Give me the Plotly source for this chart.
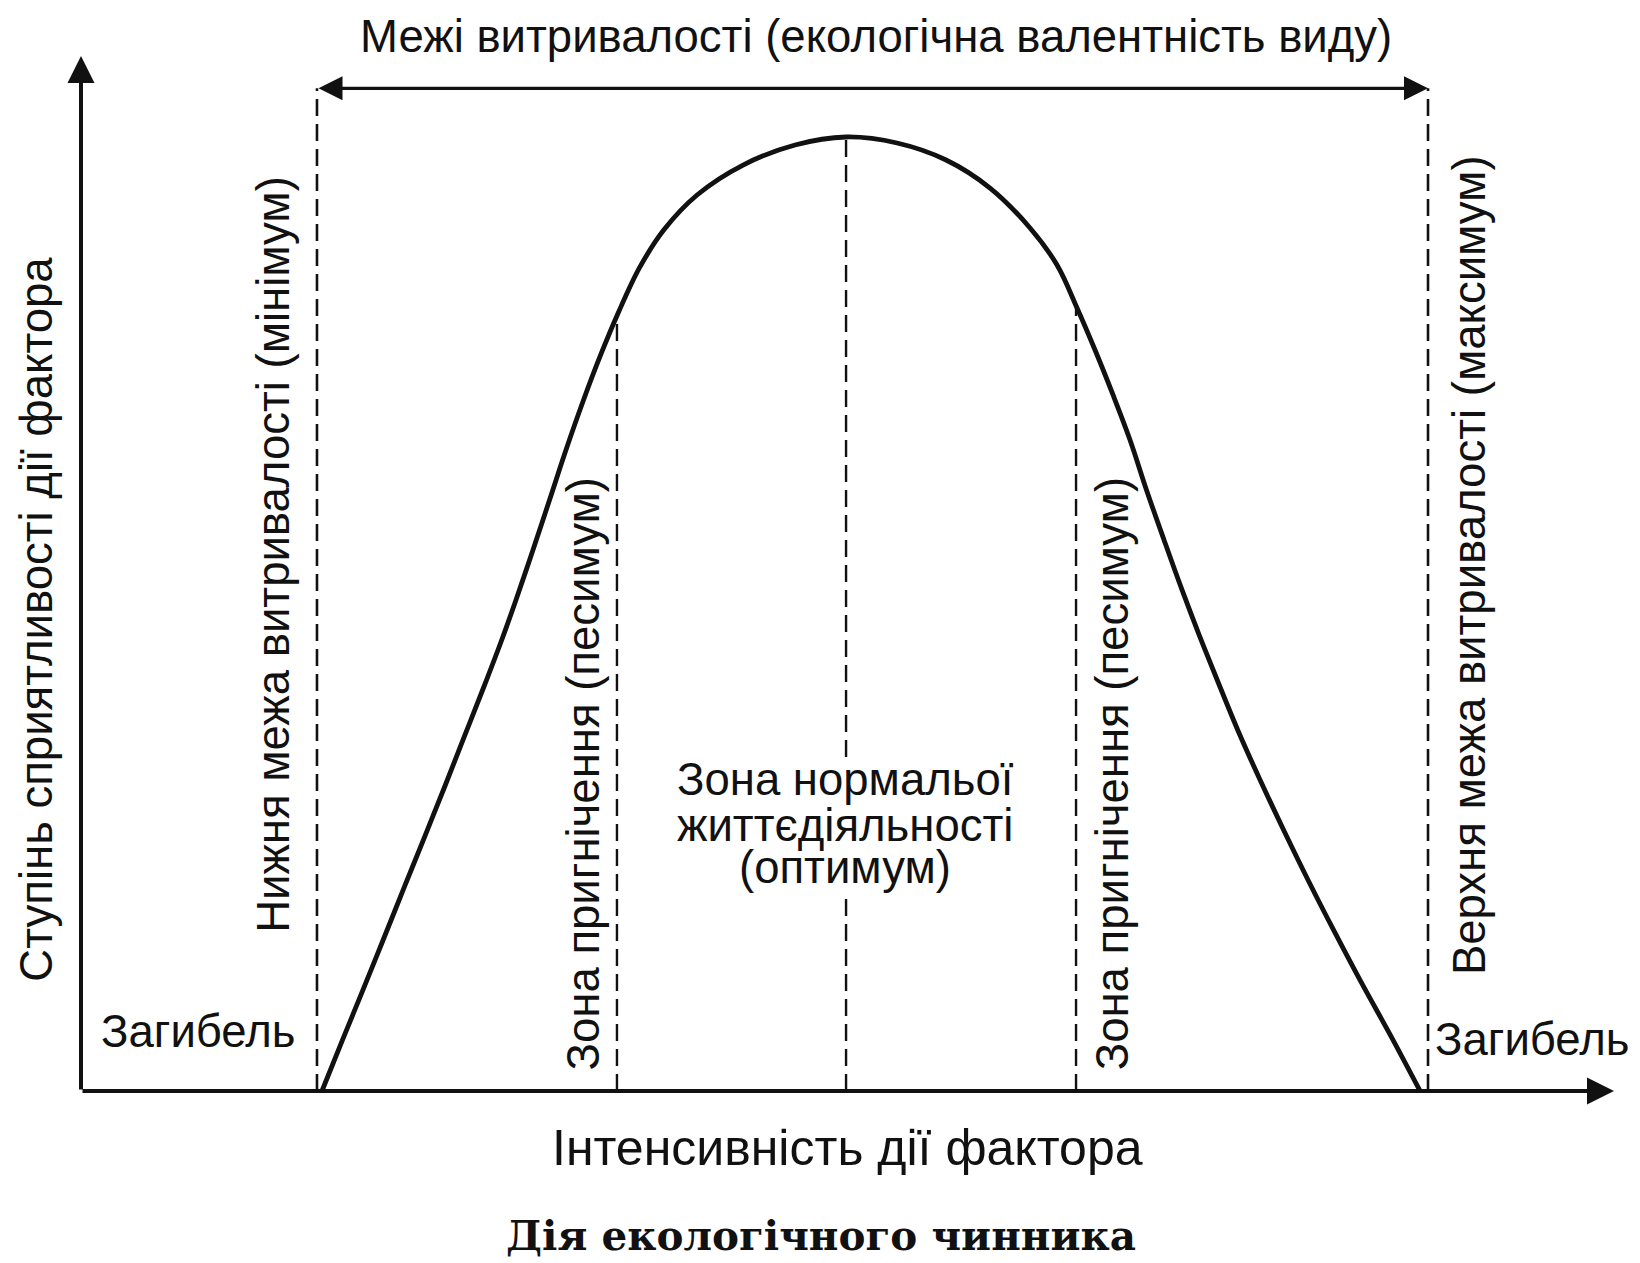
import plotly.graph_objects as go

# ---- data (arbitrary units: intensity of the factor on x, favourability on y) ----
curve_x = [21.69, 23.54, 25.38, 27.23, 29.07, 30.92, 32.76, 34.56, 36.36, 37.80, 39.15, 40.68,
           42.17, 43.65, 45.23, 46.77, 48.35, 50.26, 52.45, 55.45, 59.59, 64.27, 68.86,
           73.45, 77.86, 81.82, 85.42, 87.85, 89.65, 91.27, 92.89, 94.42, 95.90, 97.48, 99.10,
           100.68, 102.34, 104.19, 106.21, 108.33, 110.53, 112.83, 115.21, 117.89, 120.52]
curve_y = [0, 5.35, 10.59, 15.93, 21.28, 26.62, 31.97, 37.32, 42.66, 47.06, 51.47, 56.71,
           61.95, 67.19, 72.43, 77.15, 81.55, 86.27, 90.25, 93.92, 97.06, 99.16, 100,
           99.37, 97.59, 94.65, 90.46, 86.58, 82.08, 77.67, 72.96, 68.24, 63.00, 57.76, 52.52,
           47.69, 42.87, 37.63, 32.39, 27.15, 21.91, 16.67, 11.43, 5.77, 0]

limit_x = [21.24, 121.24]          # lower / upper tolerance limits
limit_top = 105.1                  # level of the double arrow
zone_x = [48.24, 68.86, 89.56]     # pessimum | optimum | pessimum boundaries
zone_top = [81.3, 100, 82.2]
opt_gap = [20.6, 35.0]             # the optimum caption interrupts the central line

x_axis_end = 137.98
y_axis_end = 108.5

title_top = "Межі витривалості (екологічна валентність виду)"
y_label = "Ступінь сприятливості дії фактора"
x_label = "Інтенсивність дії фактора"
caption = "Дія екологічного чинника"
lower_label = "Нижня межа витривалості (мінімум)"
upper_label = "Верхня межа витривалості (максимум)"
pess_label = "Зона пригнічення (песимум)"
opt_lines = ["Зона нормальої", "життєдіяльності", "(оптимум)"]
death_label = "Загибель"

FONT = "Liberation Sans"
INK = "#111111"
FS = 45.5
DASH = "17px,8px"

fig = go.Figure()


def vline(xv, y0, y1, width=2.4):
    fig.add_trace(go.Scatter(x=[xv, xv], y=[y0, y1], mode="lines",
                             line=dict(color=INK, width=width, dash=DASH),
                             hoverinfo="skip", showlegend=False))


for xv in limit_x:
    vline(xv, 0, limit_top, 2.6)
vline(zone_x[0], 0, zone_top[0])
vline(zone_x[2], 0, zone_top[2])
vline(zone_x[1], 0, opt_gap[0])
vline(zone_x[1], opt_gap[1], zone_top[1])

fig.add_trace(go.Scatter(x=curve_x, y=curve_y, mode="lines",
                         line=dict(color=INK, width=4.8, shape="spline", smoothing=1.0),
                         hoverinfo="skip", showlegend=False))

ann = []
ann.append(dict(x=0, y=y_axis_end, ax=0, ay=0, xref="x", yref="y", axref="x", ayref="y",
                text="", showarrow=True, arrowhead=2, arrowwidth=4, arrowsize=1.35,
                arrowcolor=INK))
ann.append(dict(x=x_axis_end, y=0, ax=0, ay=0, xref="x", yref="y", axref="x", ayref="y",
                text="", showarrow=True, arrowhead=2, arrowwidth=4, arrowsize=1.35,
                arrowcolor=INK))
ann.append(dict(x=limit_x[1], y=limit_top, ax=limit_x[0], ay=limit_top, xref="x", yref="y",
                axref="x", ayref="y", text="", showarrow=True, arrowhead=2, startarrowhead=2,
                arrowside="end+start", arrowwidth=3.2, arrowsize=1.5, startarrowsize=1.5,
                arrowcolor=INK))


def txt(x, y, s, angle=0, size=FS, xanchor="center", family=FONT, bold=False):
    ann.append(dict(x=x, y=y, xref="x", yref="y", text=(f"<b>{s}</b>" if bold else s),
                    showarrow=False, textangle=angle, xanchor=xanchor, yanchor="middle",
                    font=dict(family=family, size=size, color=INK)))


txt(71.56, 110.5, title_top)
txt(-3.96, 49.4, y_label, angle=-90)
txt(17.37, 56.3, lower_label, angle=-90)
txt(125.0, 55.1, upper_label, angle=-90)
txt(45.2, 33.2, pess_label, angle=-90)
txt(92.8, 33.2, pess_label, angle=-90)
txt(68.8, 32.7, opt_lines[0])
txt(68.8, 27.8, opt_lines[1])
txt(68.8, 23.4, opt_lines[2])
txt(10.49, 6.2, death_label)
txt(121.7, 5.4, death_label, xanchor="left")
txt(68.95, -6.0, x_label, size=50)
txt(66.6, -15.2, caption, family="DejaVu Serif", bold=True, size=40.5)

fig.update_layout(
    width=1640, height=1263,
    margin=dict(l=0, r=0, t=0, b=0),
    paper_bgcolor="white", plot_bgcolor="white",
    xaxis=dict(range=[-6.57, 141.04], visible=False, fixedrange=True),
    yaxis=dict(range=[-18.87, 113.52], visible=False, fixedrange=True),
    annotations=ann,
)

fig.write_html("out.html")
